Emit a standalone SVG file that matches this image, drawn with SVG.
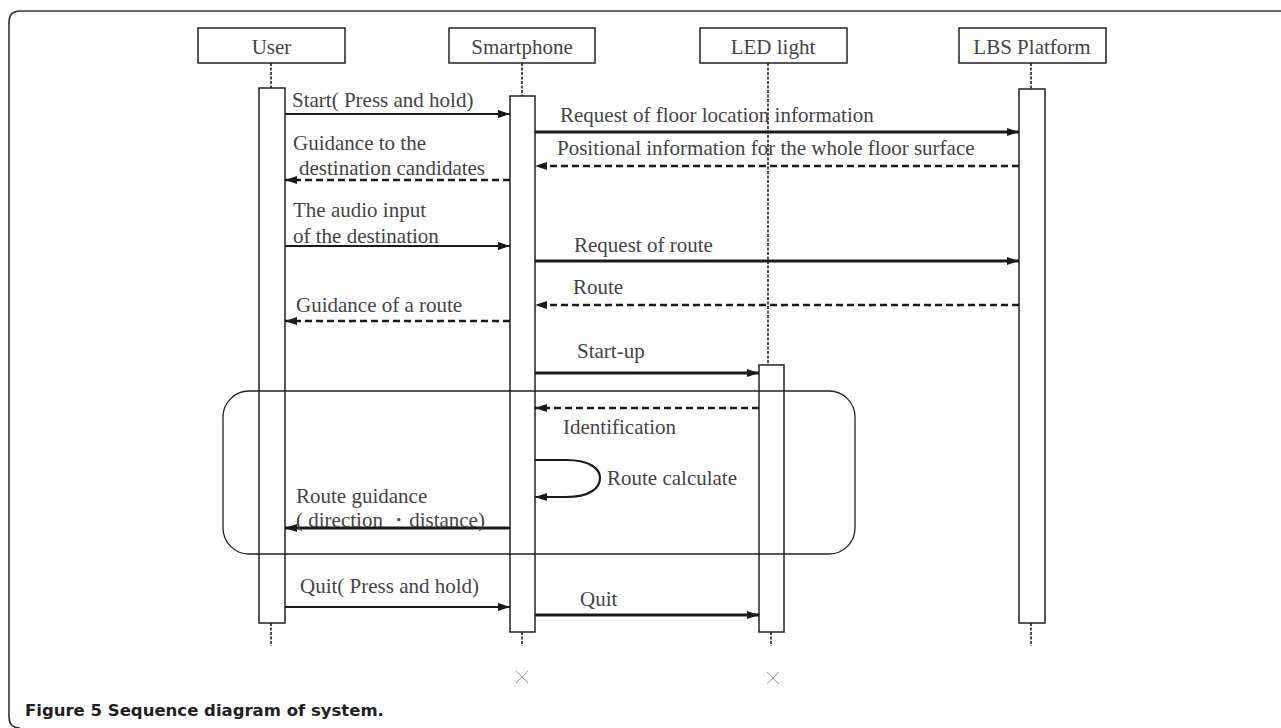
<svg xmlns="http://www.w3.org/2000/svg" width="1281" height="728" viewBox="0 0 1281 728">
<defs>
<marker id="ah" viewBox="0 0 12 8" refX="12" refY="4" markerWidth="12" markerHeight="8" markerUnits="userSpaceOnUse" orient="auto">
<path d="M0,0 L12,4 L0,8 Z" fill="#1a1a1a"/>
</marker>
<style>
.lbl{font-family:"Liberation Serif","Times New Roman",serif;font-size:21px;fill:#444;}
.hd{font-family:"Liberation Serif","Times New Roman",serif;font-size:21px;fill:#444;text-anchor:middle;}
.box{fill:#fff;stroke:#222;stroke-width:1.5;}
.bar{fill:#fff;stroke:#222;stroke-width:1.5;}
.life{stroke:#222;stroke-width:1.6;stroke-dasharray:3 1.5;fill:none;}
.sync{stroke:#1a1a1a;stroke-width:2.2;fill:none;marker-end:url(#ah);}
.thick{stroke:#1a1a1a;stroke-width:3;fill:none;marker-end:url(#ah);}
.ret{stroke:#1a1a1a;stroke-width:2.5;stroke-dasharray:7 4;fill:none;marker-end:url(#ah);}
.cap{font-family:"DejaVu Sans",sans-serif;font-weight:bold;font-size:16.5px;fill:#231f20;}
.x{stroke:#999;stroke-width:1;}
</style>
</defs>
<rect width="1281" height="728" fill="#fff"/>
<path d="M1281,11 H20 Q9,11 9,22 V717 Q9,728 20,728" fill="none" stroke="#333" stroke-width="1.6"/>

<g id="lifelines">
<line class="life" x1="271" y1="63" x2="271" y2="88"/>
<line class="life" x1="271" y1="623" x2="271" y2="646"/>
<line class="life" x1="522" y1="63" x2="522" y2="96"/>
<line class="life" x1="522" y1="632" x2="522" y2="646"/>
<line class="life" x1="768" y1="63" x2="768" y2="365"/>
<line class="life" x1="771" y1="632" x2="771" y2="646"/>
<line class="life" x1="1031" y1="63" x2="1031" y2="89"/>
<line class="life" x1="1031" y1="623" x2="1031" y2="646"/>
</g>

<g id="user">
<rect class="box" x="198" y="28" width="147" height="35"/>
<text class="hd" x="271.5" y="54">User</text>
<rect class="bar" x="259" y="88" width="26" height="535"/>
</g>
<g id="smartphone">
<rect class="box" x="449" y="28" width="146" height="35"/>
<text class="hd" x="522" y="54">Smartphone</text>
<rect class="bar" x="510" y="96" width="25" height="536"/>
</g>
<g id="led">
<rect class="box" x="700" y="28" width="147" height="35"/>
<text class="hd" x="773" y="54">LED light</text>
<rect class="bar" x="759" y="365" width="25" height="267"/>
</g>
<g id="lbs">
<rect class="box" x="959" y="28" width="147" height="35"/>
<text class="hd" x="1032" y="54">LBS Platform</text>
<rect class="bar" x="1019" y="89" width="26" height="534"/>
</g>

<g id="connectors">
<line class="sync" x1="285" y1="114" x2="510" y2="114"/>
<line class="thick" x1="535" y1="132" x2="1019" y2="132"/>
<line class="ret" x1="1019" y1="166" x2="535" y2="166"/>
<line class="ret" x1="510" y1="180" x2="285" y2="180"/>
<line class="sync" x1="285" y1="246" x2="510" y2="246"/>
<line class="thick" x1="535" y1="261" x2="1019" y2="261"/>
<line class="ret" x1="1019" y1="305" x2="535" y2="305"/>
<line class="ret" x1="510" y1="321" x2="285" y2="321"/>
<line class="thick" x1="535" y1="373" x2="759" y2="373"/>
<line class="ret" x1="759" y1="408" x2="535" y2="408"/>
<path class="sync" d="M535,460 H566 C592,460 600,470 600,478 C600,488 590,497 566,497 H535"/>
<line class="thick" x1="510" y1="528" x2="285" y2="528"/>
<line class="sync" x1="285" y1="607" x2="510" y2="607"/>
<line class="thick" x1="535" y1="615" x2="759" y2="615"/>
</g>

<g id="labels">
<text class="lbl" x="292" y="107">Start( Press and hold)</text>
<text class="lbl" x="560" y="122">Request of floor location information</text>
<text class="lbl" x="557" y="155">Positional information for the whole floor surface</text>
<text class="lbl" x="293" y="150">Guidance to the</text>
<text class="lbl" x="299" y="175">destination candidates</text>
<text class="lbl" x="293" y="217">The audio input</text>
<text class="lbl" x="293" y="243">of the destination</text>
<text class="lbl" x="574" y="252">Request of route</text>
<text class="lbl" x="573" y="294">Route</text>
<text class="lbl" x="296" y="312">Guidance of a route</text>
<text class="lbl" x="577" y="358">Start-up</text>
<text class="lbl" x="563" y="434">Identification</text>
<text class="lbl" x="607" y="485">Route calculate</text>
<text class="lbl" x="296" y="503">Route guidance</text>
<text class="lbl" x="296" y="527">( direction ・distance)</text>
<text class="lbl" x="300" y="593">Quit( Press and hold)</text>
<text class="lbl" x="580" y="606">Quit</text>
</g>

<g id="loop">
<rect x="223" y="391" width="632" height="163" rx="26" ry="26" fill="none" stroke="#222" stroke-width="1.3"/>
</g>

<g id="destroy">
<path class="x" d="M516,671 L528,683 M528,671 L516,683"/>
<path class="x" d="M767,672 L779,684 M779,672 L767,684"/>
</g>

<text class="cap" x="25" y="716">Figure 5 Sequence diagram of system.</text>
</svg>
